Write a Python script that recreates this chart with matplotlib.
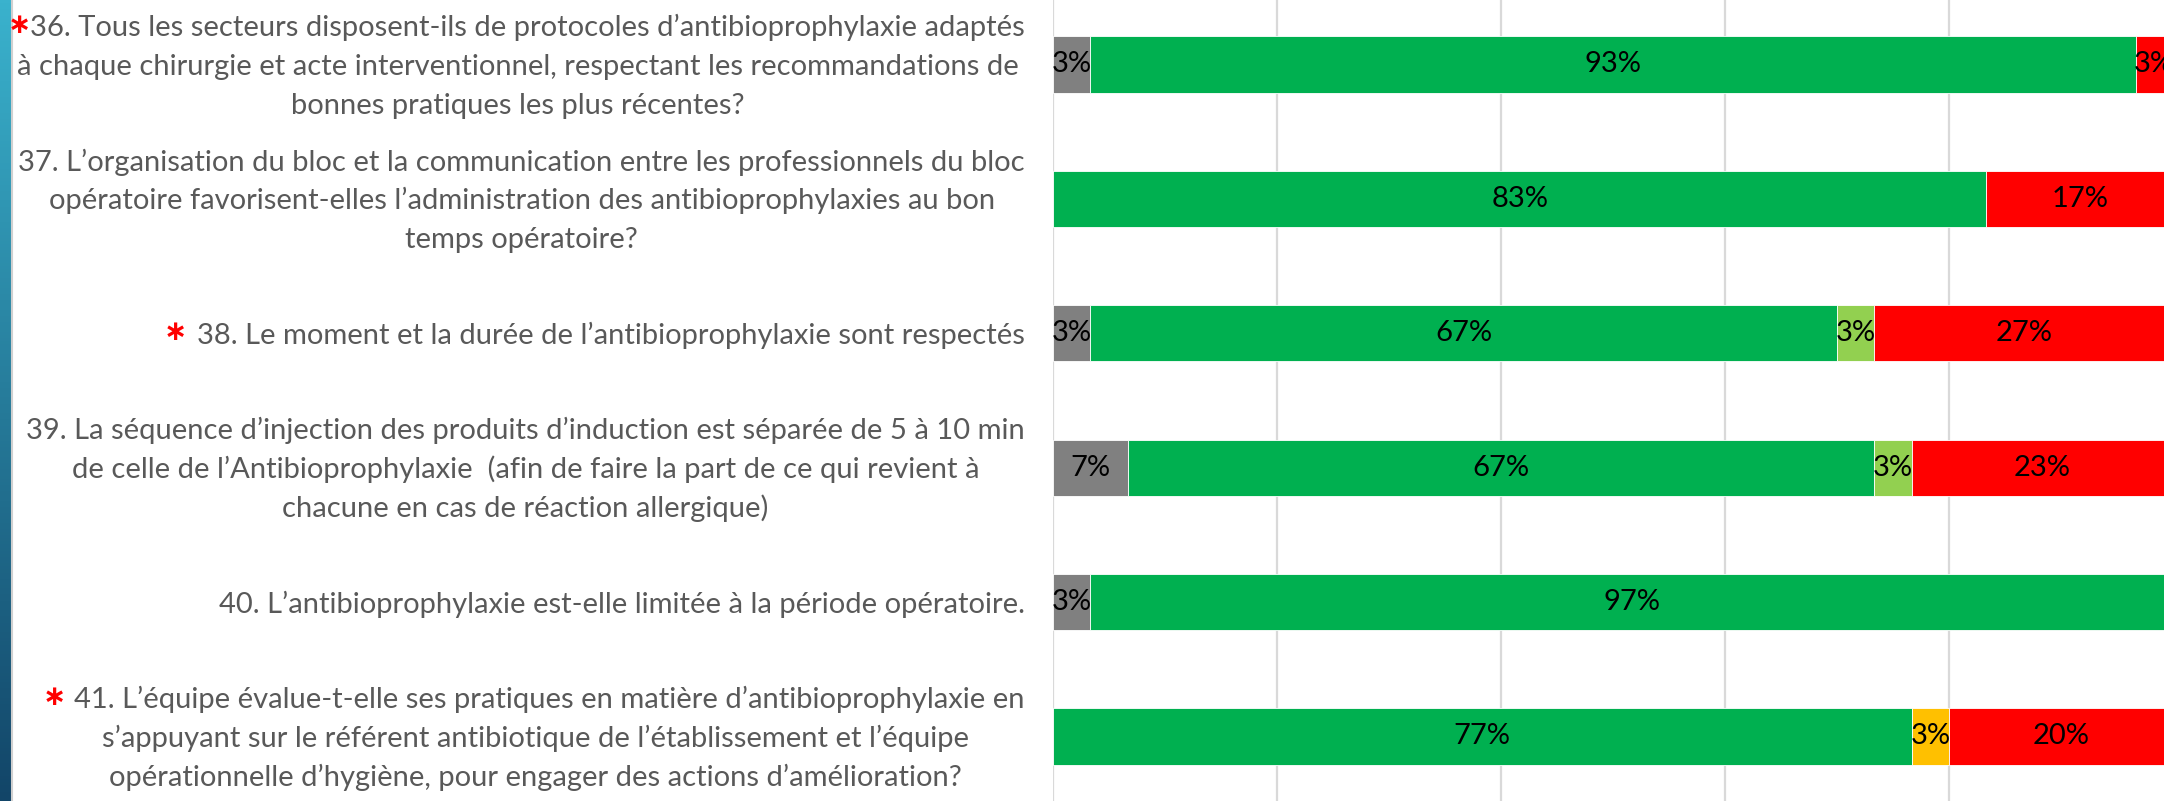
import numpy as np
import matplotlib
matplotlib.use("Agg")
import matplotlib.pyplot as plt

############### DATA ###############

questions = [
    "36. Tous les secteurs disposent-ils de protocoles d’antibioprophylaxie adaptés\n"
    "à chaque chirurgie et acte interventionnel, respectant les recommandations de\n"
    "bonnes pratiques les plus récentes?",
    "37. L’organisation du bloc et la communication entre les professionnels du bloc\n"
    "opératoire favorisent-elles l’administration des antibioprophylaxies au bon\n"
    "temps opératoire?",
    "38. Le moment et la durée de l’antibioprophylaxie sont respectés",
    "39. La séquence d’injection des produits d’induction est séparée de 5 à 10 min\n"
    "de celle de l’Antibioprophylaxie  (afin de faire la part de ce qui revient à\n"
    "chacune en cas de réaction allergique)",
    "40. L’antibioprophylaxie est-elle limitée à la période opératoire.",
    "41. L’équipe évalue-t-elle ses pratiques en matière d’antibioprophylaxie en\n"
    "s’appuyant sur le référent antibiotique de l’établissement et l’équipe\n"
    "opérationnelle d’hygiène, pour engager des actions d’amélioration?",
]
starred = [True, False, True, False, False, True]

gray_vals = [3.33, 0, 3.33, 6.67, 3.33, 0]
green_vals = [93.33, 83.33, 66.67, 66.67, 96.67, 76.67]
lightgreen_vals = [0, 0, 3.33, 3.33, 0, 0]
orange_vals = [0, 0, 0, 0, 0, 3.33]
red_vals = [3.33, 16.67, 26.67, 23.33, 0, 20.0]

series = [gray_vals, green_vals, lightgreen_vals, orange_vals, red_vals]
colors = ["#808080", "#00B050", "#92D050", "#FFC000", "#FF0000"]

####################################

plt.rcParams["font.family"] = ["Lato", "DejaVu Sans"]
text_color = "#595959"
bar_fs = 21

W, H = 2164, 801
fig = plt.figure(figsize=(W / 100, H / 100), dpi=100)
renderer = fig.canvas.get_renderer()


def text_width(s, size):
    t = fig.text(0, 0, s, fontsize=size)
    w = t.get_window_extent(renderer).width
    t.remove()
    return w


# space taken by the red star before the first line (px)
star_space = [19, 0, 30, 0, 0, 29]

# question font size: first line of Q36 (star included) is ~1013px wide
fs = 20 * (1013 - star_space[0]) / text_width(questions[0].split("\n")[0], 20)

# axes: left at 1053px, 100% at ~2173px (slightly past the right edge)
ax_left, ax_right = 1053, 2173
ax_top, ax_bot = -2.7, 803.7
ax = fig.add_axes([ax_left / W, 1 - ax_bot / H, (ax_right - ax_left) / W, (ax_bot - ax_top) / H])

y = np.arange(len(questions))
left = np.zeros(len(questions))
for vals, c in zip(series, colors):
    vals = np.array(vals, dtype=float)
    ax.barh(y, vals, left=left, height=0.417, color=c, edgecolor="white",
            linewidth=0.6, zorder=3)
    for i, v in enumerate(vals):
        if v > 0:
            ax.text(left[i] + v / 2, y[i], f"{v:.0f}%", ha="center", va="center",
                    fontsize=bar_fs, color="black", zorder=4)
    left += vals

ax.set_xlim(0, 100)
ax.set_ylim(len(questions) - 0.5, -0.5)
ax.set_xticks([0, 20, 40, 60, 80, 100])
ax.xaxis.grid(color="#D9D9D9", linewidth=1.6, zorder=0)
ax.set_axisbelow(True)
ax.tick_params(axis="x", length=0, labelbottom=False)
ax.set_yticks([])
for s in ax.spines.values():
    s.set_visible(False)

############### question labels, line by line ###############
right_px = 1025
line_h = 38.7
cap_h = 0.72 * fs * 100 / 72  # Lato cap height in px

for i, q in enumerate(questions):
    lines = q.split("\n")
    widths = [text_width(l, fs) for l in lines]
    widths[0] += star_space[i]
    center = right_px - max(widths) / 2
    yc = ax.transData.transform((0, y[i]))[1]  # px from bottom
    n = len(lines)
    for j, l in enumerate(lines):
        base = yc + ((n - 1) / 2 - j) * line_h - cap_h / 2
        x0 = center - widths[j] / 2
        if j == 0 and starred[i]:
            fig.text((x0 + 8.5) / W, (base + cap_h / 2 + 1) / H, "∗", color="#FF0000",
                     fontsize=20, fontweight="bold", family="DejaVu Sans",
                     ha="center", va="center")
            x0 += star_space[i]
        fig.text(x0 / W, base / H, l, fontsize=fs, color=text_color,
                 ha="left", va="baseline")

# blue strip on the left edge
strip = fig.add_axes([0, 0, 11 / W, 1])
grad = np.linspace(0, 1, 256).reshape(-1, 1)
top_c = np.array([0x3A, 0xB2, 0xCD]) / 255
bot_c = np.array([0x12, 0x45, 0x68]) / 255
img = top_c[None, None, :] * (1 - grad[:, :, None]) + bot_c[None, None, :] * grad[:, :, None]
strip.imshow(img, aspect="auto", extent=[0, 1, 0, 1])
strip.axis("off")
fig.add_artist(plt.Line2D([12 / W, 12 / W], [0, 1], color="#D0D0D0", linewidth=1.5))

plt.savefig("out.png", dpi=100)
